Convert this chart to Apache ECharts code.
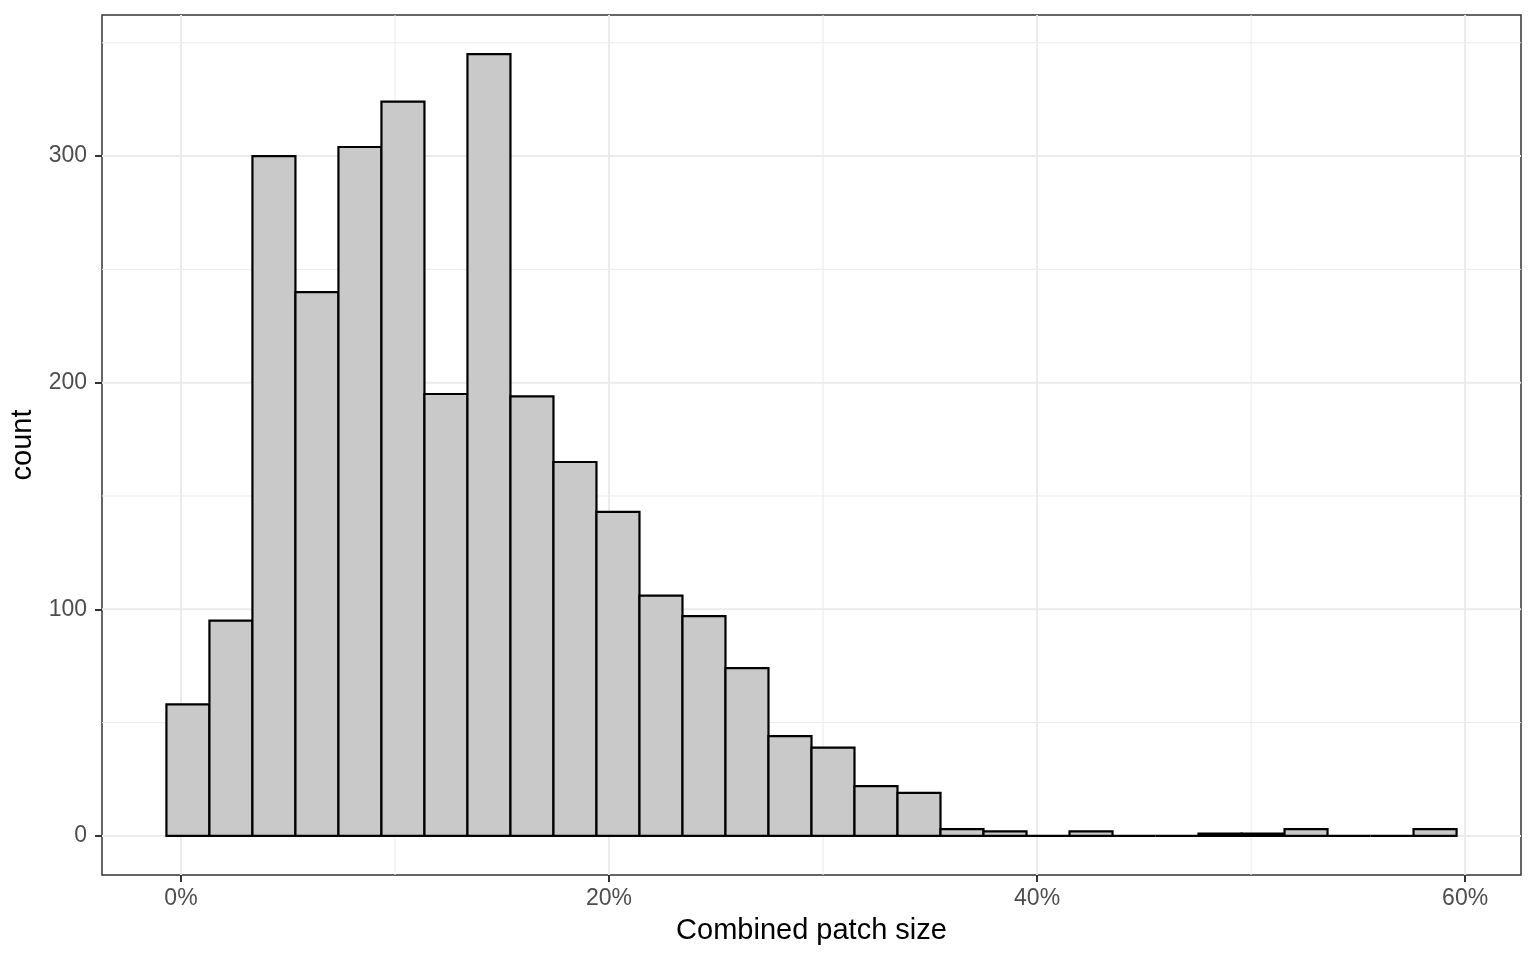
<!DOCTYPE html>
<html>
<head>
<meta charset="utf-8">
<title>Combined patch size</title>
<script src="https://cdn.jsdelivr.net/npm/echarts@6/dist/echarts.min.js"></script>
<style>
  html, body { margin: 0; padding: 0; background: #fff; }
  #chart { width: 1536px; height: 960px; }
</style>
</head>
<body>
<div id="chart"></div>
<script>
// histogram: 30 bins, left edge of first bin and bin width in %
const binMin = -0.68;
const binWidth = 2.0093;
const counts = [58, 95, 300, 240, 304, 324, 195, 345, 194, 165,
                143, 106, 97, 74, 44, 39, 22, 19, 3, 2,
                0, 2, 0, 0, 1, 1, 3, 0, 0, 3];

// axis ticks
const xTicks = [0, 20, 40, 60];
const xMinor = [10, 30, 50];
const yTicks = [0, 100, 200, 300];
const yMinor = [50, 150, 250, 350];

// panel range (ggplot adds 5% on each side)
const xRange = [-3.69, 62.61];
const yRange = [-17.25, 362.25];

const font = '"Liberation Sans", Arial, Helvetica, sans-serif';

let bins = counts.map(function (c, i) {
  let start = binMin + i * binWidth;
  return [start, start + binWidth, c];
});

let gridX = xTicks.map(v => [v, 2]).concat(xMinor.map(v => [v, 1]));
let gridY = yTicks.map(v => [v, 2]).concat(yMinor.map(v => [v, 1]));

let chart = echarts.init(document.getElementById('chart'));

let axisTick = function (values) {
  return {
    show: true,
    customValues: values,
    length: 7,
    lineStyle: { color: '#333333', width: 2 }
  };
};

chart.setOption({
  animation: false,
  backgroundColor: '#ffffff',
  grid: {
    left: 102, right: 15, top: 15, bottom: 85,
    show: true,
    borderColor: '#333333',
    borderWidth: 1.5,
    backgroundColor: '#ffffff'
  },
  xAxis: {
    type: 'value',
    min: xRange[0],
    max: xRange[1],
    axisLine: { show: false, onZero: false },
    axisTick: axisTick(xTicks),
    splitLine: { show: false },
    axisLabel: {
      customValues: xTicks,
      formatter: v => v + '%',
      fontFamily: font,
      fontSize: 23,
      color: '#4d4d4d',
      margin: 12
    },
    name: 'Combined patch size',
    nameLocation: 'middle',
    nameGap: 41,
    nameTextStyle: { fontFamily: font, fontSize: 29, color: '#000' }
  },
  yAxis: {
    type: 'value',
    min: yRange[0],
    max: yRange[1],
    axisLine: { show: false, onZero: false },
    axisTick: axisTick(yTicks),
    splitLine: { show: false },
    axisLabel: {
      customValues: yTicks,
      fontFamily: font,
      fontSize: 23,
      color: '#4d4d4d',
      margin: 15
    },
    name: 'count',
    nameLocation: 'middle',
    nameGap: 56,
    nameTextStyle: { fontFamily: font, fontSize: 29, color: '#000' }
  },
  series: [
    {
      // vertical grid lines
      type: 'custom',
      silent: true,
      z: 1,
      encode: { x: 0 },
      data: gridX,
      renderItem: function (params, api) {
        let a = api.coord([api.value(0), yRange[0]]);
        let b = api.coord([api.value(0), yRange[1]]);
        return {
          type: 'line',
          shape: { x1: a[0], y1: a[1], x2: b[0], y2: b[1] },
          style: { stroke: '#ebebeb', lineWidth: api.value(1) }
        };
      }
    },
    {
      // horizontal grid lines
      type: 'custom',
      silent: true,
      z: 1,
      encode: { y: 0 },
      data: gridY,
      renderItem: function (params, api) {
        let a = api.coord([xRange[0], api.value(0)]);
        let b = api.coord([xRange[1], api.value(0)]);
        return {
          type: 'line',
          shape: { x1: a[0], y1: a[1], x2: b[0], y2: b[1] },
          style: { stroke: '#ebebeb', lineWidth: api.value(1) }
        };
      }
    },
    {
      // histogram bars
      type: 'custom',
      z: 2,
      encode: { x: [0, 1], y: 2 },
      data: bins,
      renderItem: function (params, api) {
        let p0 = api.coord([api.value(0), api.value(2)]);
        let p1 = api.coord([api.value(1), 0]);
        return {
          type: 'rect',
          shape: { x: p0[0], y: p0[1], width: p1[0] - p0[0], height: p1[1] - p0[1] },
          style: { fill: '#c9c9c9', stroke: '#000000', lineWidth: 2.2 }
        };
      }
    }
  ]
});
</script>
</body>
</html>
